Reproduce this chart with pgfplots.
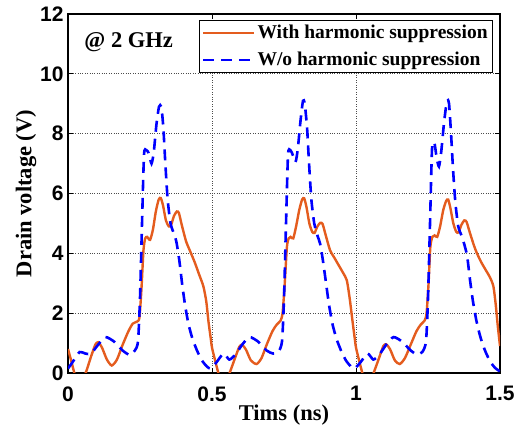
\documentclass[border=0pt]{standalone}
\usepackage{fontspec}
\setmainfont{Liberation Serif}
\setsansfont{Liberation Sans}
\usepackage{pgfplots}
\pgfplotsset{compat=1.18}
\definecolor{myorange}{RGB}{228,92,30}
\definecolor{myblue}{RGB}{0,0,255}
\begin{document}
\begin{tikzpicture}
\path[use as bounding box] (-68pt,-54pt) rectangle (458pt,373pt);
\begin{axis}[
  at={(0pt,0pt)}, anchor=south west,
  scale only axis, width=432pt, height=359pt,
  xmin=0, xmax=1.5, ymin=0, ymax=12,
  xtick={0,0.5,1,1.5}, xticklabels={0,0.5,1,1.5},
  ytick={0,2,4,6,8,10,12},
  grid=major,
  major grid style={dotted, line width=0.8pt, black!70},
  axis line style={line width=1.2pt},
  tick style={line width=1pt, black},
  major tick length=5pt,
  tick label style={font=\fontsize{21}{24}\selectfont\sffamily\bfseries},
  xticklabel style={yshift=-10pt},
  yticklabel style={xshift=-1pt},
  /pgf/number format/assume math mode=true,
  xlabel={Tims (ns)}, ylabel={Drain voltage (V)},
  label style={font=\fontsize{22.5}{25}\selectfont\bfseries},
  xlabel style={yshift=3pt},
  ylabel style={yshift=-3pt},
  legend cell align=left,
  legend style={at={(rel axis cs:1,1)}, anchor=north east, xshift=-7pt, yshift=-6pt,
    draw=black, line width=0.8pt, font=\fontsize{19.5}{21}\selectfont\bfseries,
    inner xsep=3pt, inner ysep=3pt, row sep=8pt},
  legend image code/.code={\draw[#1] (0pt,0pt) -- (51pt,0pt);},
]
\addplot[myorange, line width=2.4pt, smooth, tension=0.4] coordinates {
(0.000,0.80)(0.010,0.45)(0.025,-0.10)(0.040,-0.40)(0.055,-0.15)(0.065,0.10)
(0.080,0.55)(0.095,0.95)(0.105,1.03)(0.118,0.85)(0.135,0.45)(0.152,0.25)
(0.170,0.45)(0.190,0.95)(0.210,1.40)(0.225,1.65)(0.240,1.72)(0.248,1.85)
(0.255,2.80)(0.262,4.10)(0.268,4.50)(0.275,4.55)(0.285,4.45)(0.295,4.80)
(0.305,5.40)(0.315,5.80)(0.322,5.85)(0.330,5.60)(0.340,5.10)(0.350,4.90)
(0.358,4.95)(0.368,5.25)(0.378,5.40)(0.385,5.35)(0.395,4.95)(0.410,4.40)
(0.425,4.05)(0.440,3.70)(0.455,3.30)(0.470,2.90)(0.480,2.40)(0.488,1.70)
(0.495,1.20)(0.500,0.85)
(0.510,0.45)(0.525,-0.10)(0.540,-0.40)(0.555,-0.15)(0.565,0.10)(0.580,0.50)
(0.595,0.88)(0.605,0.94)(0.618,0.78)(0.635,0.42)(0.655,0.30)(0.672,0.50)
(0.690,0.95)(0.710,1.40)(0.725,1.62)(0.738,1.75)(0.745,2.00)(0.752,2.90)
(0.760,4.20)(0.766,4.50)(0.773,4.55)(0.782,4.50)(0.792,4.90)(0.803,5.45)
(0.813,5.80)(0.820,5.84)(0.828,5.55)(0.838,5.00)(0.848,4.72)(0.856,4.68)
(0.866,4.90)(0.876,5.02)(0.884,4.98)(0.895,4.60)(0.910,4.10)(0.925,3.85)
(0.940,3.60)(0.955,3.35)(0.968,3.10)(0.978,2.50)(0.987,1.80)(0.995,1.20)
(1.000,0.85)
(1.010,0.45)(1.025,-0.10)(1.040,-0.40)(1.055,-0.15)(1.065,0.10)(1.080,0.50)
(1.095,0.90)(1.105,0.96)(1.118,0.80)(1.135,0.42)(1.152,0.30)(1.170,0.50)
(1.190,0.95)(1.210,1.40)(1.225,1.62)(1.238,1.75)(1.245,2.00)(1.252,3.00)
(1.258,4.20)(1.265,4.55)(1.273,4.60)(1.282,4.55)(1.292,4.90)(1.303,5.45)
(1.313,5.75)(1.320,5.80)(1.328,5.50)(1.338,5.00)(1.348,4.72)(1.356,4.70)
(1.366,4.95)(1.376,5.10)(1.384,5.05)(1.395,4.70)(1.410,4.25)(1.420,4.00)
(1.435,3.70)(1.450,3.45)(1.465,3.20)(1.477,2.90)(1.485,2.30)(1.492,1.60)
(1.500,0.90)
};
\addlegendentry{With harmonic suppression}
\addplot[myblue, line width=2.6pt, dash pattern=on 11pt off 7pt, smooth, tension=0.4] coordinates {
(0.000,0.15)(0.015,0.35)(0.040,0.70)(0.060,0.65)(0.080,0.65)(0.105,0.95)
(0.130,1.20)(0.160,1.05)(0.190,0.75)(0.215,0.60)(0.232,0.75)(0.243,1.05)
(0.250,2.50)(0.257,5.00)(0.264,7.30)(0.272,7.45)(0.280,7.35)(0.290,7.00)
(0.298,7.40)(0.307,8.30)(0.316,8.90)(0.324,8.90)(0.331,8.20)(0.338,7.00)
(0.346,5.80)(0.356,5.00)(0.366,4.70)(0.376,4.40)(0.386,3.80)(0.396,3.00)
(0.406,2.30)(0.418,1.65)(0.432,1.15)(0.448,0.75)(0.465,0.42)(0.482,0.22)
(0.495,0.15)
(0.515,0.35)(0.540,0.65)(0.560,0.45)(0.580,0.60)(0.605,0.95)(0.630,1.20)
(0.660,1.05)(0.690,0.75)(0.712,0.65)(0.730,0.70)(0.743,1.05)(0.750,2.50)
(0.757,5.00)(0.764,7.30)(0.772,7.45)(0.780,7.30)(0.790,7.05)(0.798,7.50)
(0.807,8.40)(0.816,9.10)(0.822,9.00)(0.830,8.20)(0.837,7.00)(0.845,5.80)
(0.855,5.00)(0.866,4.60)(0.876,4.30)(0.886,3.70)(0.896,3.00)(0.906,2.30)
(0.918,1.65)(0.932,1.15)(0.948,0.75)(0.965,0.42)(0.982,0.22)(0.995,0.15)
(1.015,0.35)(1.040,0.65)(1.060,0.45)(1.080,0.60)(1.105,0.95)(1.130,1.20)
(1.160,1.05)(1.190,0.75)(1.212,0.62)(1.230,0.70)(1.243,1.05)(1.250,2.50)
(1.257,5.00)(1.264,7.50)(1.272,7.70)(1.280,7.20)(1.288,6.90)(1.296,7.40)
(1.306,8.40)(1.316,9.10)(1.323,9.00)(1.330,8.00)(1.337,6.80)(1.345,5.70)
(1.355,4.90)(1.366,4.60)(1.376,4.30)(1.386,3.90)(1.396,3.10)(1.406,2.40)
(1.418,1.75)(1.432,1.20)(1.448,0.75)(1.465,0.40)(1.482,0.18)(1.500,0.05)
};
\addlegendentry{W/o harmonic suppression}
\node[anchor=west, font=\fontsize{22.5}{25}\selectfont\bfseries] at (axis cs:0.045,11.05) {@ 2 GHz};
\end{axis}
\end{tikzpicture}
\end{document}
